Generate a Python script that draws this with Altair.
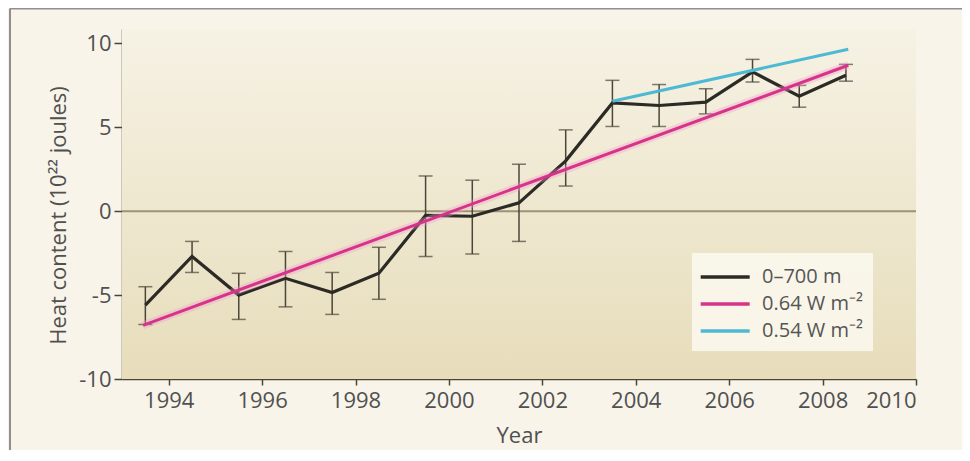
import altair as alt
import pandas as pd

# ---- data ----
years = [1993.5, 1994.5, 1995.5, 1996.5, 1997.5, 1998.5, 1999.5, 2000.5,
         2001.5, 2002.5, 2003.5, 2004.5, 2005.5, 2006.5, 2007.5, 2008.5]
heat = [-5.6, -2.7, -5.0, -4.0, -4.85, -3.7, -0.25, -0.3,
        0.5, 3.0, 6.45, 6.3, 6.5, 8.3, 6.85, 8.1]
err_hi = [-4.5, -1.8, -3.7, -2.4, -3.65, -2.15, 2.1, 1.85,
          2.8, 4.85, 7.8, 7.55, 7.3, 9.05, 7.5, 8.75]
err_lo = [-6.75, -3.65, -6.45, -5.7, -6.15, -5.25, -2.7, -2.55,
          -1.8, 1.5, 5.05, 5.05, 5.8, 7.7, 6.2, 7.75]

series_names = ["0–700 m", "0.64 W m⁻²", "0.54 W m⁻²"]
series_colors = ["#2b2a24", "#d8338a", "#4db9d4"]

pink_years = [1993.45, 2008.55]
pink_values = [-6.8, 8.7]
cyan_years = [2003.5, 2008.55]
cyan_values = [6.55, 9.65]

x_ticks = [1994, 1996, 1998, 2000, 2002, 2004, 2006, 2008, 2010]
y_ticks = [-10, -5, 0, 5, 10]

# ---- tables ----
obs = pd.DataFrame({"year": years, "heat": heat, "hi": err_hi, "lo": err_lo,
                    "series": series_names[0]})
trend = pd.DataFrame({
    "year": pink_years + cyan_years,
    "heat": pink_values + cyan_values,
    "series": [series_names[1]] * 2 + [series_names[2]] * 2,
})
pink = trend[trend["series"] == series_names[1]]
one = pd.DataFrame({"v": [0]})

W, H = 794, 350
LEFT, TOP = 114, 21

xscale = alt.Scale(domain=[1993, 2010], nice=False, zero=False)
yscale = alt.Scale(domain=[-10, 10.86], nice=False, zero=False)
xaxis = alt.Axis(values=x_ticks, format="d", title="Year", grid=False,
                 tickSize=6, labelPadding=5, titlePadding=14)
yaxis = alt.Axis(values=y_ticks, title="Heat content (10²² joules)", grid=False,
                 tickSize=8, labelPadding=3, titlePadding=8, titleY=186,
                 labelExpr="toString(datum.value)")

X = alt.X("year:Q", scale=xscale, axis=xaxis)

color = alt.Color(
    "series:N",
    scale=alt.Scale(domain=series_names, range=series_colors),
    sort=series_names,
    legend=alt.Legend(
        title=None, orient="none", legendX=570, legendY=224,
        fillColor="rgba(250,248,238,0.88)", padding=10,
        symbolType="M-1.25,0H2.75", symbolStrokeWidth=3.5, symbolSize=600,
        labelFontSize=20, labelColor="#555555", labelFont="Open Sans",
        labelOffset=32, rowPadding=3,
    ),
)

# plot-area background gradient
bg = alt.Chart(one).mark_rect(
    fill=alt.Gradient(
        gradient="linear",
        stops=[alt.GradientStop(color="#f6f2e4", offset=0),
               alt.GradientStop(color="#e7ddbb", offset=1)],
        x1=0, x2=0, y1=0, y2=1,
    )
).encode(x=alt.value(0), x2=alt.value(W), y=alt.value(0), y2=alt.value(H))

# outer frame (top and left edges)
frame_top = alt.Chart(one).mark_rule(color="#8f8f8f", strokeWidth=2).encode(
    x=alt.value(-LEFT + 2), x2=alt.value(970), y=alt.value(-TOP + 0.5))
frame_left = alt.Chart(one).mark_rule(color="#8f8f8f", strokeWidth=2).encode(
    x=alt.value(-LEFT + 2), y=alt.value(-TOP + 0.5), y2=alt.value(H + 80))

zero = alt.Chart(one).mark_rule(color="#9d9374", strokeWidth=2).encode(
    y=alt.Y("v:Q", scale=yscale, axis=yaxis))

bars = alt.Chart(obs).mark_rule(color="#4b463a", strokeWidth=1.5).encode(
    x=X, y=alt.Y("lo:Q", scale=yscale, axis=yaxis), y2="hi:Q")
caps_hi = alt.Chart(obs).mark_tick(color="#4b463a", thickness=1.5, size=14,
                                   orient="horizontal").encode(
    x=X, y=alt.Y("hi:Q", scale=yscale, axis=yaxis))
caps_lo = alt.Chart(obs).mark_tick(color="#4b463a", thickness=1.5, size=14,
                                   orient="horizontal").encode(
    x=X, y=alt.Y("lo:Q", scale=yscale, axis=yaxis))

obs_line = alt.Chart(obs).mark_line(strokeWidth=3.2).encode(
    x=X, y=alt.Y("heat:Q", scale=yscale, axis=yaxis), color=color)

glow = alt.Chart(pink).mark_line(strokeWidth=8, color="#f29ccb", opacity=0.35).encode(
    x=X, y=alt.Y("heat:Q", scale=yscale, axis=yaxis))

trend_line = alt.Chart(trend).mark_line(strokeWidth=3).encode(
    x=X, y=alt.Y("heat:Q", scale=yscale, axis=yaxis), color=color,
    detail="series:N")

chart = alt.layer(
    bg, frame_top, frame_left, zero, bars, caps_hi, caps_lo, obs_line, glow, trend_line
).properties(
    width=W, height=H,
    autosize=alt.AutoSizeParams(type="none"),
    padding={"left": LEFT, "top": TOP, "right": 46, "bottom": 71},
    background="#f8f4ea",
).configure_view(stroke=None).configure_axis(
    domainColor="#4a4535", domainWidth=1.5,
    tickColor="#4a4535", tickWidth=1.5,
    labelFont="Open Sans", labelFontSize=22, labelColor="#505050",
    titleFont="Open Sans", titleFontSize=22, titleFontWeight="normal",
    titleColor="#505050",
)

chart.save("out.html", embed_options={"renderer": "svg", "actions": False})
